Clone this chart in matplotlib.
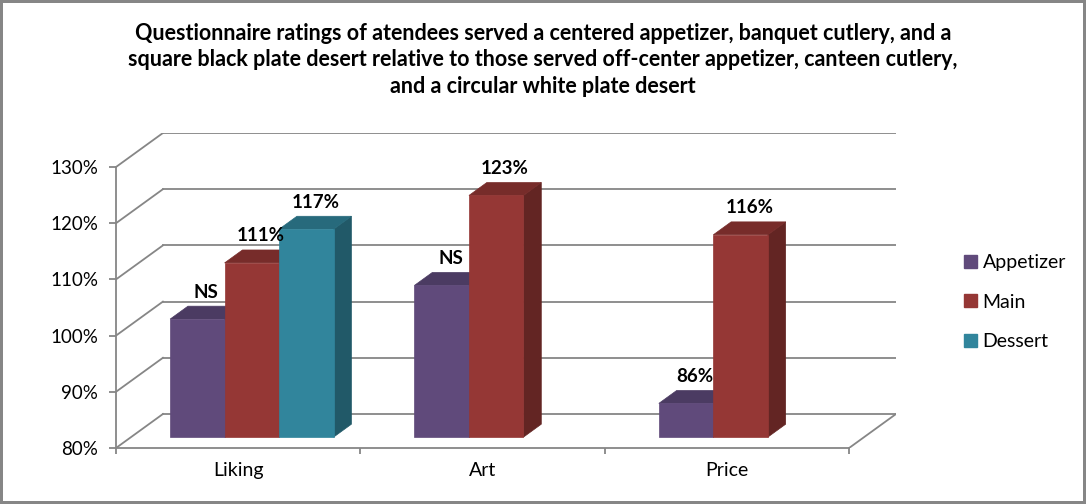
import numpy as np
import matplotlib
matplotlib.use('Agg')
import matplotlib.pyplot as plt
from matplotlib.patches import Polygon, Patch

plt.rcParams['font.family'] = ['Lato', 'DejaVu Sans']

# data
categories = ['Liking', 'Art', 'Price']
series = ['Appetizer', 'Main', 'Dessert']
appetizer = [101, 107, 86]
main = [111, 123, 116]
dessert = [117, np.nan, np.nan]
labels = [['NS', 'NS', '86%'],
          ['111%', '123%', '116%'],
          ['117%', '', '']]
yticks = [80, 90, 100, 110, 120, 130]

title = ('Questionnaire ratings of atendees served a centered appetizer, banquet cutlery, and a\n'
         'square black plate desert relative to those served off-center appetizer, canteen cutlery,\n'
         'and a circular white plate desert')

# colours: front, top, side
faces = [('#604A7B', '#4B3B62', '#403152'),
         ('#953735', '#772C2A', '#632523'),
         ('#31859C', '#276A7C', '#215968')]
grid_col = '#868686'

# pseudo 3d depth (data units)
DX, DY = 0.192, 6.05
f0, f1 = 0.32, 0.70
bw = 0.223
gap = 0.16

fig = plt.figure(figsize=(10.86, 5.04), dpi=100)
fig.patch.set_edgecolor(grid_col)
fig.patch.set_linewidth(3)
ax = fig.add_axes([116/1086, 56/504, 780/1086, 315/504])
ax.set_xlim(0, 3 + DX)
ax.set_ylim(80, 130 + DY)

# walls
for v in yticks:
    ax.plot([0, DX], [v, v + DY], color=grid_col, lw=1.3, zorder=1)
    ax.plot([DX, 3 + DX], [v + DY, v + DY], color=grid_col, lw=1.3, zorder=1)
ax.plot([3, 3 + DX], [80, 80 + DY], color=grid_col, lw=1.3, zorder=1)

# bars
vals = [appetizer, main, dessert]
for c in range(len(categories)):
    for i, s in enumerate(vals):
        v = s[c]
        if np.isnan(v):
            continue
        x0 = c + gap + i * bw
        x1 = x0 + bw
        fr, tp, sd = faces[i]
        front = [(x0 + f0*DX, 80 + f0*DY), (x1 + f0*DX, 80 + f0*DY),
                 (x1 + f0*DX, v + f0*DY), (x0 + f0*DX, v + f0*DY)]
        top = [(x0 + f0*DX, v + f0*DY), (x1 + f0*DX, v + f0*DY),
               (x1 + f1*DX, v + f1*DY), (x0 + f1*DX, v + f1*DY)]
        side = [(x1 + f0*DX, 80 + f0*DY), (x1 + f1*DX, 80 + f1*DY),
                (x1 + f1*DX, v + f1*DY), (x1 + f0*DX, v + f0*DY)]
        for poly, col in ((side, sd), (top, tp), (front, fr)):
            ax.add_patch(Polygon(poly, closed=True, facecolor=col, edgecolor=col,
                                 lw=0.5, zorder=3))
        ax.annotate(labels[i][c], (x0 + bw/2 + (f0 + f1)/2*DX, v + f1*DY),
                    xytext=(0, 4), textcoords='offset points', ha='center',
                    va='bottom', fontsize=13.5, fontweight='bold', zorder=5)

# axes
for sp in ['top', 'right']:
    ax.spines[sp].set_visible(False)
ax.spines['left'].set_bounds(80, 130)
ax.spines['bottom'].set_bounds(0, 3)
for sp in ['left', 'bottom']:
    ax.spines[sp].set_color(grid_col)
    ax.spines[sp].set_linewidth(1.3)
ax.set_yticks(yticks)
ax.set_yticklabels(['%d%%' % t for t in yticks])
ax.tick_params(axis='y', length=5, width=1.3, color=grid_col, pad=8, labelsize=13.5)
ax.set_xticks([0, 1, 2, 3])
ax.set_xticklabels([])
ax.set_xticks([0.5, 1.5, 2.5], minor=True)
ax.set_xticklabels(categories, minor=True)
ax.tick_params(axis='x', which='major', length=4, width=1.3, color=grid_col)
ax.tick_params(axis='x', which='minor', length=0, pad=10, labelsize=14)

fig.text(0.5, 1 - 60/504, title, ha='center', va='center', fontsize=15.5,
         fontweight='bold', linespacing=1.3)

handles = [Patch(facecolor=faces[i][0], edgecolor=faces[i][0]) for i in range(3)]
fig.legend(handles, series, loc='center left', bbox_to_anchor=(964/1086, 1 - 302/504),
           frameon=False, fontsize=14, handlelength=0.65, handleheight=0.65,
           handletextpad=0.3, labelspacing=1.15, borderpad=0, borderaxespad=0)

fig.savefig('out.png', dpi=100)
